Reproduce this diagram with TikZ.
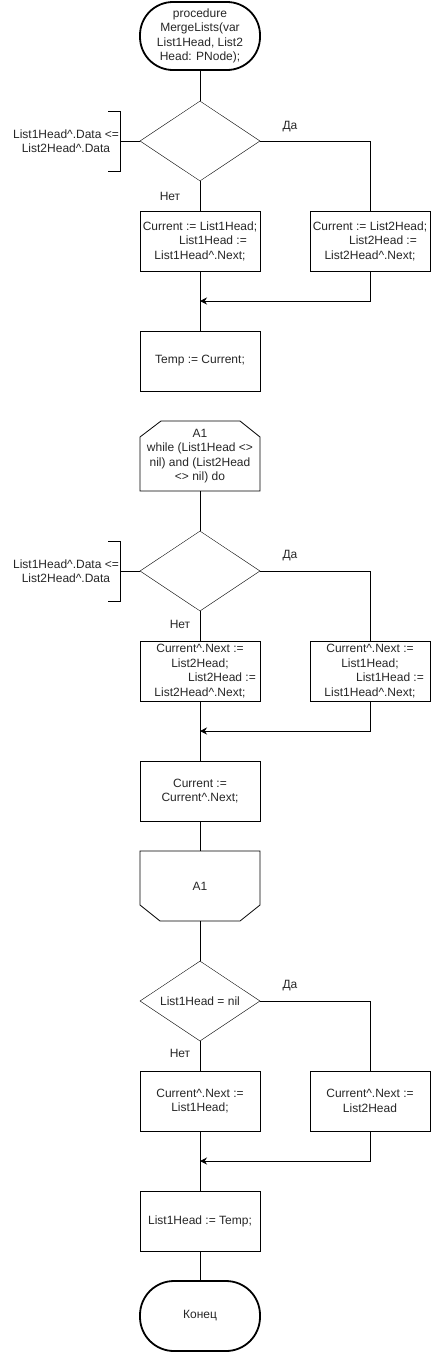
\documentclass[tikz,border=0pt]{standalone}
\usepackage{fontspec}
\setmainfont{Liberation Sans}
\usetikzlibrary{shapes.geometric,arrows.meta}
\begin{document}
\begin{tikzpicture}[x=1pt,y=-1pt,
  every node/.style={font=\fontsize{12pt}{14.5pt}\selectfont, text=black!85},
  proc/.style={draw, rectangle, minimum width=120pt, minimum height=60pt, inner sep=0pt, align=center},
  dec/.style={draw, diamond, aspect=1.5, minimum width=120pt, minimum height=80pt, inner sep=0pt, align=center},
  term/.style={draw, rectangle, rounded corners=33pt, line width=1.8pt, minimum width=120pt, minimum height=68pt, inner sep=0pt, align=center},
  ghost/.style={rectangle, minimum width=120pt, minimum height=70pt, inner sep=0pt, align=center},
  lbl/.style={inner sep=0pt},
  conn/.style={line width=0.8pt},
  arr/.style={line width=0.8pt, -{Stealth[length=7pt,width=7pt]}}
]
\useasboundingbox (0,0) rectangle (431,1352);

% ---------- part 1 ----------
\node[term] (start) at (200,36) {procedure\\MergeLists(var\\List1Head, List2\\Head: PNode);};
\node[dec] (d1) at (200,141) {};
\node[lbl, align=center] (c1) at (66,141) {List1Head\^{}.Data <=\\List2Head\^{}.Data};
\coordinate (b1) at (120,141);
\draw[conn] (108,111) -- (120,111) -- (120,171) -- (108,171);
\draw[conn] (d1.west) -- (b1);
\node[proc] (l1) at (200,241) {Current := List1Head;\\\hspace*{26pt}List1Head :=\\List1Head\^{}.Next;};
\node[proc] (r1) at (370,241) {Current := List2Head;\\\hspace*{26pt}List2Head :=\\List2Head\^{}.Next;};
\node[proc] (temp) at (200,361) {Temp := Current;};
\coordinate (m1) at (200,301);
\draw[conn] (start) -- (d1);
\draw[conn] (d1.east) -| (r1.north);
\draw[conn] (d1.south) -- (l1.north);
\draw[conn] (l1.south) -- (temp.north);
\draw[arr] (r1.south) |- (m1);
\node[lbl] (yes1) at (290,127) {Да};
\node[lbl] (no1) at (170,196) {Нет};

% ---------- loop start ----------
\node[ghost] (ls) at (200,456) {A1\\while (List1Head <>\\nil) and (List2Head\\<> nil) do};
\draw[conn] (140,491) -- (140,437) -- (161,421) -- (240,421) -- (260,437) -- (260,491) -- cycle;

\node[dec] (d2) at (200,571) {};
\node[lbl, align=center] (c2) at (66,571) {List1Head\^{}.Data <=\\List2Head\^{}.Data};
\coordinate (b2) at (120,571);
\draw[conn] (108,541) -- (120,541) -- (120,601) -- (108,601);
\draw[conn] (d2.west) -- (b2);
\node[proc] (l2) at (200,671) {Current\^{}.Next :=\\List2Head;\\\hspace*{44pt}List2Head :=\\List2Head\^{}.Next;};
\node[proc] (r2) at (370,671) {Current\^{}.Next :=\\List1Head;\\\hspace*{40pt}List1Head :=\\List1Head\^{}.Next;};
\node[proc] (cur) at (200,791) {Current :=\\Current\^{}.Next;};
\coordinate (m2) at (200,731);
\draw[conn] (ls.south) -- (d2.north);
\draw[conn] (d2.east) -| (r2.north);
\draw[conn] (d2.south) -- (l2.north);
\draw[conn] (l2.south) -- (cur.north);
\draw[arr] (r2.south) |- (m2);
\node[lbl] (yes2) at (290,556) {Да};
\node[lbl] (no2) at (180,624) {Нет};

% ---------- loop end ----------
\node[ghost] (le) at (200,886) {A1};
\draw[conn] (140,851) -- (260,851) -- (260,905) -- (240,921) -- (160,921) -- (140,905) -- cycle;
\draw[conn] (cur.south) -- (le.north);

% ---------- part 3 ----------
\node[dec] (d3) at (200,1001) {List1Head = nil};
\node[proc] (l3) at (200,1101) {Current\^{}.Next :=\\List1Head;};
\node[proc] (r3) at (370,1101) {Current\^{}.Next :=\\List2Head};
\node[proc] (fin) at (200,1221) {List1Head := Temp;};
\node[term, minimum height=70pt, rounded corners=34pt] (stop) at (200,1316) {Конец};
\coordinate (m3) at (200,1161);
\draw[conn] (le.south) -- (d3.north);
\draw[conn] (d3.east) -| (r3.north);
\draw[conn] (d3.south) -- (l3.north);
\draw[conn] (l3.south) -- (fin.north);
\draw[arr] (r3.south) |- (m3);
\draw[conn] (fin.south) -- (stop.north);
\node[lbl] (yes3) at (290,986) {Да};
\node[lbl] (no3) at (180,1053) {Нет};
\end{tikzpicture}
\end{document}
